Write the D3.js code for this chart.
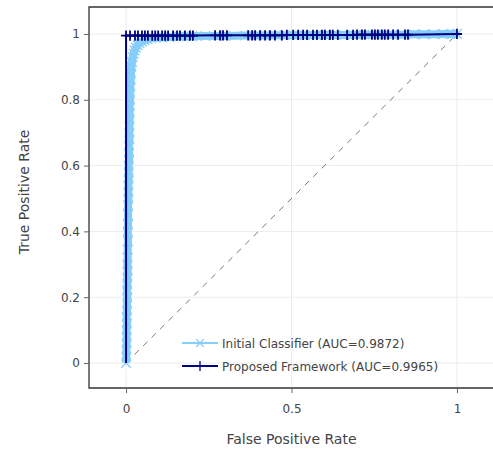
<!DOCTYPE html>
<html>
<head>
<meta charset="utf-8">
<script src="https://cdn.jsdelivr.net/npm/d3@7"></script>
<style>
  html, body { margin: 0; background: #fff; overflow: hidden; }
  svg { display: block; }
  text { font-family: "DejaVu Sans", Verdana, sans-serif; }
</style>
</head>
<body>
<script>
// ROC points
const initialFpr = [0, 0.001, 0.001, 0.002, 0.002, 0.002, 0.003, 0.002, 0.003, 0.003,
  0.004, 0.003, 0.004, 0.004, 0.005, 0.004, 0.005, 0.005, 0.006, 0.005,
  0.006, 0.006, 0.006, 0.007, 0.007, 0.007, 0.008, 0.008, 0.008, 0.009,
  0.009, 0.009, 0.010, 0.010, 0.010, 0.011, 0.011, 0.011, 0.012, 0.012,
  0.013, 0.014, 0.015, 0.016, 0.018, 0.020, 0.023, 0.026, 0.030, 0.035,
  0.041, 0.048, 0.056, 0.065, 0.076, 0.090, 0.11, 0.13, 0.16, 0.20,
  0.24, 0.30, 0.36, 0.42, 0.48, 0.54, 0.60, 0.66, 0.72, 0.78,
  0.83, 0.87, 0.90, 0.93, 0.96, 0.98, 1];
const initialTpr = [0, 0.02, 0.04, 0.06, 0.08, 0.10, 0.12, 0.14, 0.16, 0.18,
  0.20, 0.22, 0.24, 0.26, 0.28, 0.30, 0.32, 0.345, 0.37, 0.40,
  0.42, 0.45, 0.48, 0.50, 0.52, 0.54, 0.56, 0.58, 0.60, 0.62,
  0.64, 0.66, 0.68, 0.70, 0.72, 0.74, 0.76, 0.78, 0.80, 0.82,
  0.84, 0.86, 0.88, 0.90, 0.915, 0.93, 0.94, 0.95, 0.958, 0.966,
  0.972, 0.977, 0.981, 0.984, 0.987, 0.989, 0.990, 0.991, 0.992, 0.993,
  0.994, 0.994, 0.995, 0.995, 0.996, 0.996, 0.997, 0.997, 0.998, 0.998,
  0.998, 0.999, 0.999, 0.999, 1, 1, 1];

const proposedFpr = [0, 0, 0.012, 0.027, 0.036, 0.048, 0.057, 0.066, 0.079, 0.088,
  0.097, 0.109, 0.118, 0.127, 0.142, 0.154, 0.163, 0.178, 0.193, 0.202,
  0.269, 0.284, 0.293, 0.305, 0.369, 0.381, 0.390, 0.405, 0.420, 0.435,
  0.450, 0.471, 0.486, 0.505, 0.520, 0.535, 0.547, 0.565, 0.577, 0.592,
  0.601, 0.616, 0.625, 0.640, 0.668, 0.686, 0.698, 0.713, 0.722, 0.743,
  0.752, 0.761, 0.773, 0.782, 0.792, 0.807, 0.822, 0.843, 0.852, 1];
const proposedTpr = [0, 0.995, 0.995, 0.995, 0.995, 0.995, 0.995, 0.995, 0.995, 0.995,
  0.995, 0.995, 0.995, 0.995, 0.995, 0.995, 0.995, 0.995, 0.995, 0.995,
  0.996, 0.996, 0.996, 0.996, 0.996, 0.996, 0.996, 0.996, 0.996, 0.996,
  0.996, 0.996, 0.997, 0.997, 0.997, 0.997, 0.997, 0.997, 0.997, 0.997,
  0.997, 0.997, 0.997, 0.997, 0.997, 0.997, 0.998, 0.998, 0.998, 0.998,
  0.998, 0.998, 0.998, 0.998, 0.998, 0.998, 0.998, 0.998, 0.998, 1];

const xTicks = [0, 0.5, 1];
const yTicks = [0, 0.2, 0.4, 0.6, 0.8, 1];
const legendLabels = ["Initial Classifier (AUC=0.9872)", "Proposed Framework (AUC=0.9965)"];

const W = 493, H = 453;
const margin = { top: 7, right: -4, bottom: 65, left: 89 },
  width = W - margin.left - margin.right,
  height = H - margin.top - margin.bottom;

const lightBlue = "#87cefa", navy = "#000080";

const svg = d3.select("body").append("svg")
  .attr("width", W)
  .attr("height", H);

const g = svg.append("g")
  .attr("transform", `translate(${margin.left},${margin.top})`);

// right edge sits just past the window, as in the picture
const x = d3.scaleLinear().domain([-0.112, 1.121]).range([0, width]);
const y = d3.scaleLinear().domain([-0.076, 1.082]).range([height, 0]);

// grid
g.append("g")
  .selectAll("line")
  .data(xTicks)
  .join("line")
  .attr("x1", d => x(d)).attr("x2", d => x(d))
  .attr("y1", 0).attr("y2", height)
  .attr("stroke", "#ececec");
g.append("g")
  .selectAll("line")
  .data(yTicks)
  .join("line")
  .attr("y1", d => y(d)).attr("y2", d => y(d))
  .attr("x1", 0).attr("x2", width)
  .attr("stroke", "#ececec");

// frame: left and bottom axis lines plus a top line, no right side
g.append("path")
  .attr("d", `M${width},0H0V${height}H${width}`)
  .attr("fill", "none")
  .attr("stroke", "#333")
  .attr("stroke-width", 1.3);

// axes (ticks and labels only)
g.append("g")
  .attr("transform", `translate(0,${height})`)
  .call(d3.axisBottom(x).tickValues(xTicks).tickSize(5).tickSizeOuter(0).tickPadding(11).tickFormat(d3.format("")))
  .call(a => a.select(".domain").remove())
  .call(a => a.selectAll(".tick line").attr("stroke", "#666"))
  .call(a => a.selectAll(".tick text").attr("fill", "#444").style("font-size", "12px"));

g.append("g")
  .call(d3.axisLeft(y).tickValues(yTicks).tickSize(5).tickSizeOuter(0).tickPadding(4).tickFormat(d3.format("")))
  .call(a => a.select(".domain").remove())
  .call(a => a.selectAll(".tick line").attr("stroke", "#666"))
  .call(a => a.selectAll(".tick text").attr("fill", "#444").style("font-size", "12px"));

// chance diagonal
g.append("line")
  .attr("x1", x(0)).attr("y1", y(0))
  .attr("x2", x(1)).attr("y2", y(1))
  .attr("stroke", "#777")
  .attr("stroke-width", 1)
  .attr("stroke-dasharray", "6,6");

const initial = initialFpr.map((d, i) => [d, initialTpr[i]]);
const proposed = proposedFpr.map((d, i) => [d, proposedTpr[i]]);

const line = d3.line().x(d => x(d[0])).y(d => y(d[1]));
const xMark = d3.symbol(d3.symbolX, 60);
const xMarkLegend = d3.symbol(d3.symbolX, 40);
const plusMark = d3.symbol(d3.symbolPlus, 36);

// initial classifier
g.append("path")
  .datum(initial)
  .attr("d", line)
  .attr("fill", "none")
  .attr("stroke", lightBlue)
  .attr("stroke-width", 8)
  .attr("stroke-linejoin", "round");
g.append("g")
  .selectAll("path")
  .data(initial)
  .join("path")
  .attr("transform", d => `translate(${x(d[0])},${y(d[1])})`)
  .attr("d", xMark)
  .attr("fill", "none")
  .attr("stroke", lightBlue)
  .attr("stroke-width", 1.4);

// proposed framework
g.append("path")
  .datum(proposed)
  .attr("d", line)
  .attr("fill", "none")
  .attr("stroke", navy)
  .attr("stroke-width", 2);
g.append("g")
  .selectAll("path")
  .data(proposed.slice(1))
  .join("path")
  .attr("transform", d => `translate(${x(d[0])},${y(d[1])})`)
  .attr("d", plusMark)
  .attr("fill", "none")
  .attr("stroke", navy)
  .attr("stroke-width", 1.8);

// axis titles
svg.append("text")
  .attr("x", margin.left + x(0.5))
  .attr("y", 444)
  .attr("text-anchor", "middle")
  .attr("fill", "#444")
  .style("font-size", "14px")
  .text("False Positive Rate");

svg.append("text")
  .attr("transform", `translate(29,192) rotate(-90)`)
  .attr("text-anchor", "middle")
  .attr("fill", "#444")
  .style("font-size", "14px")
  .text("True Positive Rate");

// legend
const legend = svg.append("g").attr("transform", "translate(182,343)");
const items = legend.selectAll("g")
  .data(legendLabels)
  .join("g")
  .attr("transform", (d, i) => `translate(0,${i * 23})`);
items.append("line")
  .attr("x1", 0).attr("x2", 36)
  .attr("stroke", (d, i) => i === 0 ? lightBlue : navy)
  .attr("stroke-width", 2);
items.append("path")
  .attr("transform", "translate(18,0)")
  .attr("d", (d, i) => i === 0 ? xMarkLegend() : plusMark())
  .attr("fill", "none")
  .attr("stroke", (d, i) => i === 0 ? lightBlue : navy)
  .attr("stroke-width", 1.3);
items.append("text")
  .attr("x", 40)
  .attr("y", 4.5)
  .attr("fill", "#444")
  .style("font-size", "12px")
  .text(d => d);
</script>
</body>
</html>
